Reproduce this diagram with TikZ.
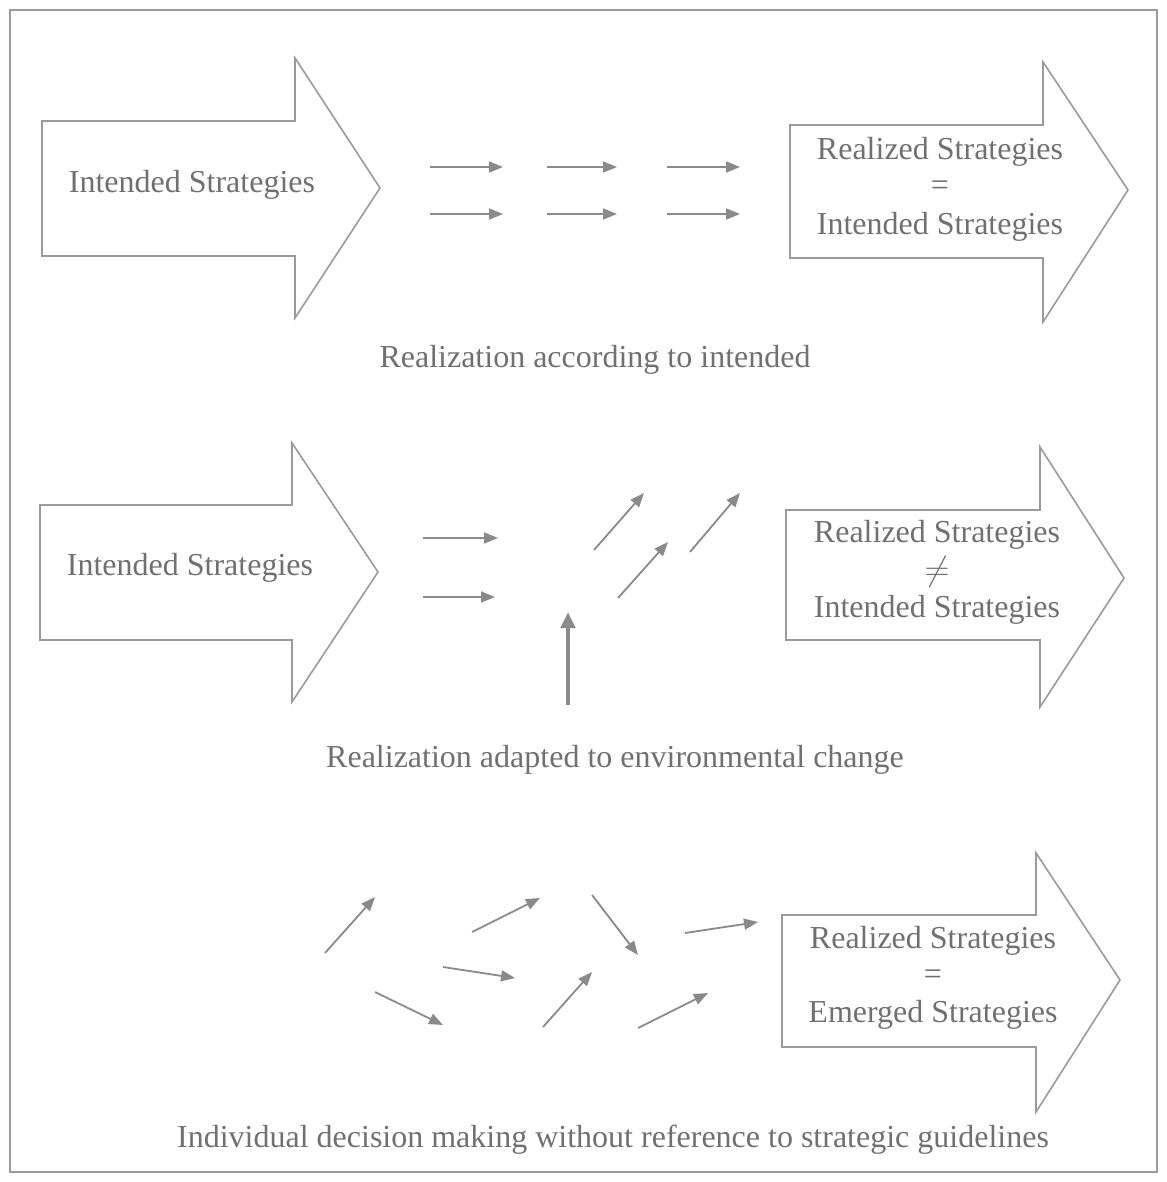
\documentclass[tikz,border=0pt]{standalone}
\usepackage{fontspec}
\setmainfont{Liberation Serif}
\usepackage{tikz}
\usetikzlibrary{arrows.meta, positioning, calc}

\definecolor{inkgray}{HTML}{707070}
\definecolor{linegray}{HTML}{8A8A8A}
\definecolor{boxgray}{HTML}{9A9A9A}

\tikzset{
  blockarrow/.style={draw=boxgray, line width=0.8pt, line join=miter},
  label/.style={text=inkgray, font=\fontsize{16}{19}\selectfont, inner sep=0pt},
  smallarrow/.style={draw=linegray, line width=0.9pt, -{Triangle[length=7pt,width=5.5pt]}},
}

\begin{document}
\begin{tikzpicture}[x=0.5pt, y=-0.5pt]
  \useasboundingbox (0,0) rectangle (1166,1182);

  % Outer frame
  \draw[boxgray, line width=0.8pt] (10,10) rectangle (1157,1172);

  % Row 1: realization according to intended
  \draw[blockarrow] (42,121) -- (295,121) -- (295,58) -- (380,188) -- (295,318) -- (295,256) -- (42,256) -- cycle;
  \draw[blockarrow] (790,125) -- (1043,125) -- (1043,62) -- (1128,190) -- (1043,322) -- (1043,258) -- (790,258) -- cycle;
  \node[label] (int1) at (192,185) {Intended Strategies};
  \node[label] (real1) at (940,152) {Realized Strategies};
  \node[label] (eq1) at (940,188) {=};
  \node[label] (int1r) at (940,227) {Intended Strategies};
  \foreach \xa/\xb in {430/503, 547/617, 667/740} {
    \draw[smallarrow] (\xa,167) -- (\xb,167);
    \draw[smallarrow] (\xa,214) -- (\xb,214);
  }
  \node[label] (cap1) at (595,360) {Realization according to intended};

  % Row 2: realization adapted to environmental change
  \draw[blockarrow] (40,505) -- (292,505) -- (292,443) -- (378,572) -- (292,702) -- (292,640) -- (40,640) -- cycle;
  \draw[blockarrow] (786,510) -- (1040,510) -- (1040,447) -- (1124,578) -- (1040,707) -- (1040,640) -- (786,640) -- cycle;
  \node[label] (int2) at (190,568) {Intended Strategies};
  \node[label] (real2) at (937,535) {Realized Strategies};
  \node[label] (neq2) at (937,572) {$\neq$};
  \node[label] (int2r) at (937,610) {Intended Strategies};
  \foreach \ax/\ay/\bx/\by in {423/538/498/538, 423/597/495/597, 594/550/644/493, 618/598/668/542, 690/552/740/493} {
    \draw[smallarrow] (\ax,\ay) -- (\bx,\by);
  }
  \draw[draw=linegray, line width=2pt, -{Triangle[length=8pt,width=7pt]}] (568,705) -- (568,612);
  \node[label] (cap2) at (615,760) {Realization adapted to environmental change};

  % Row 3: individual decision making
  \draw[blockarrow] (782,915) -- (1036,915) -- (1036,853) -- (1120,980) -- (1036,1112) -- (1036,1047) -- (782,1047) -- cycle;
  \node[label] (real3) at (933,941) {Realized Strategies};
  \node[label] (eq3) at (933,977) {=};
  \node[label] (emg3) at (933,1015) {Emerged Strategies};
  \foreach \ax/\ay/\bx/\by in {325/953/375/897, 472/932/540/898, 592/895/638/955, 685/933/758/922,
                               443/967/515/978, 375/992/443/1025, 543/1027/592/972, 638/1028/708/993} {
    \draw[smallarrow] (\ax,\ay) -- (\bx,\by);
  }
  \node[label] (cap3) at (613,1140) {Individual decision making without reference to strategic guidelines};
\end{tikzpicture}
\end{document}
